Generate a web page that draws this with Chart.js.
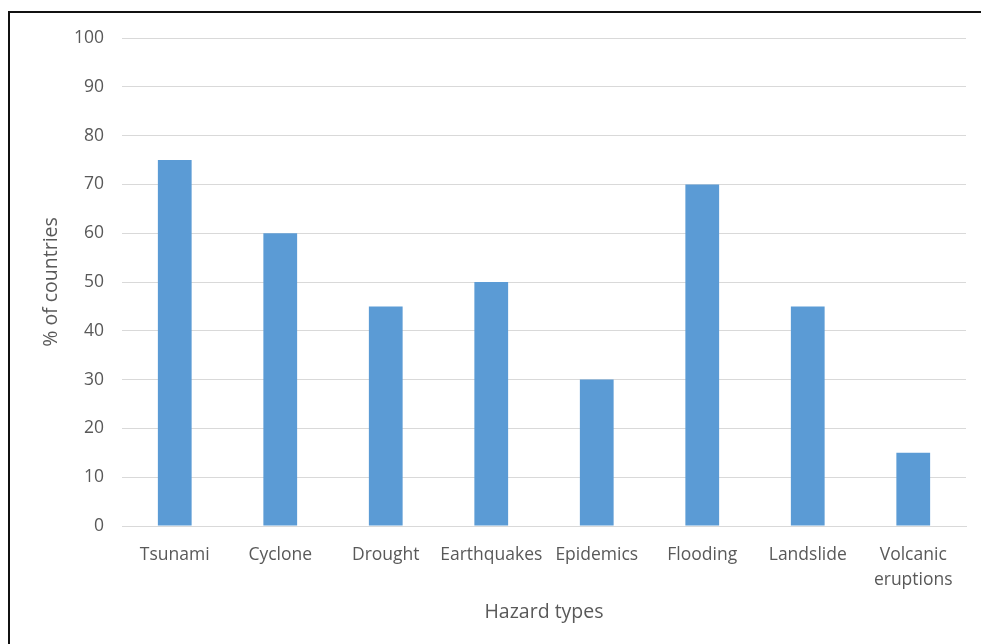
<!DOCTYPE html>
<html lang="en">
<head>
  <meta charset="UTF-8">
  <title>Hazard types</title>
  <script src="https://cdn.jsdelivr.net/npm/chart.js"></script>
  <style>
    body {
      margin: 0;
      background: #fff;
      overflow: hidden;
    }

    #frame {
      position: absolute;
      left: 8px;
      top: 11px;
      width: 990px;
      height: 650px;
      border-left: 2px solid #111;
      border-top: 2px solid #111;
    }

    #hazardChart {
      position: absolute;
      left: 0;
      top: 0;
    }
  </style>
</head>
<body>
  <div id="frame"></div>
  <canvas id="hazardChart" width="981" height="644"></canvas>
  <script>
    const hazardTypes = ["Tsunami", "Cyclone", "Drought", "Earthquakes", "Epidemics", "Flooding", "Landslide", ["Volcanic", "eruptions"]];
    const percentCountries = [75, 60, 45, 50, 30, 70, 45, 15];

    const textColor = "#595959";
    const gridColor = "#d9d9d9";
    const fontFamily = "'Open Sans', sans-serif";

    const ctx = document.getElementById("hazardChart").getContext("2d");

    new Chart(ctx, {
      type: "bar",
      data: {
        labels: hazardTypes,
        datasets: [
          {
            label: "% of countries",
            data: percentCountries,
            backgroundColor: "#5b9bd5",
            borderWidth: 0,
            categoryPercentage: 1,
            barPercentage: 0.32,
          },
        ],
      },
      options: {
        responsive: false,
        animation: false,
        layout: {
          padding: { left: 40, right: 15, top: 38, bottom: 20 },
        },
        plugins: {
          legend: { display: false },
          tooltip: { enabled: false },
        },
        scales: {
          x: {
            // fixed axis band so the plot bottom sits where it should
            afterFit: (scale) => { scale.height = 98; },
            grid: { display: false, drawTicks: false },
            border: { color: gridColor, width: 1 },
            ticks: {
              color: textColor,
              font: { family: fontFamily, size: 17.5, lineHeight: 1.45 },
              maxRotation: 0,
              autoSkip: false,
              padding: 16,
            },
            title: {
              display: true,
              text: "Hazard types",
              color: textColor,
              font: { family: fontFamily, size: 19.5 },
              padding: { top: 7, bottom: 0 },
            },
          },
          y: {
            afterFit: (scale) => { scale.width = 82; },
            min: 0,
            max: 100,
            border: { display: false },
            grid: {
              color: gridColor,
              lineWidth: 1,
              drawTicks: false,
            },
            ticks: {
              stepSize: 10,
              color: textColor,
              font: { family: fontFamily, size: 17.5 },
              padding: 18,
            },
            title: {
              display: true,
              text: "% of countries",
              color: textColor,
              font: { family: fontFamily, size: 19.5 },
              padding: { top: 0, bottom: 8 },
            },
          },
        },
      },
    });
  </script>
</body>
</html>
